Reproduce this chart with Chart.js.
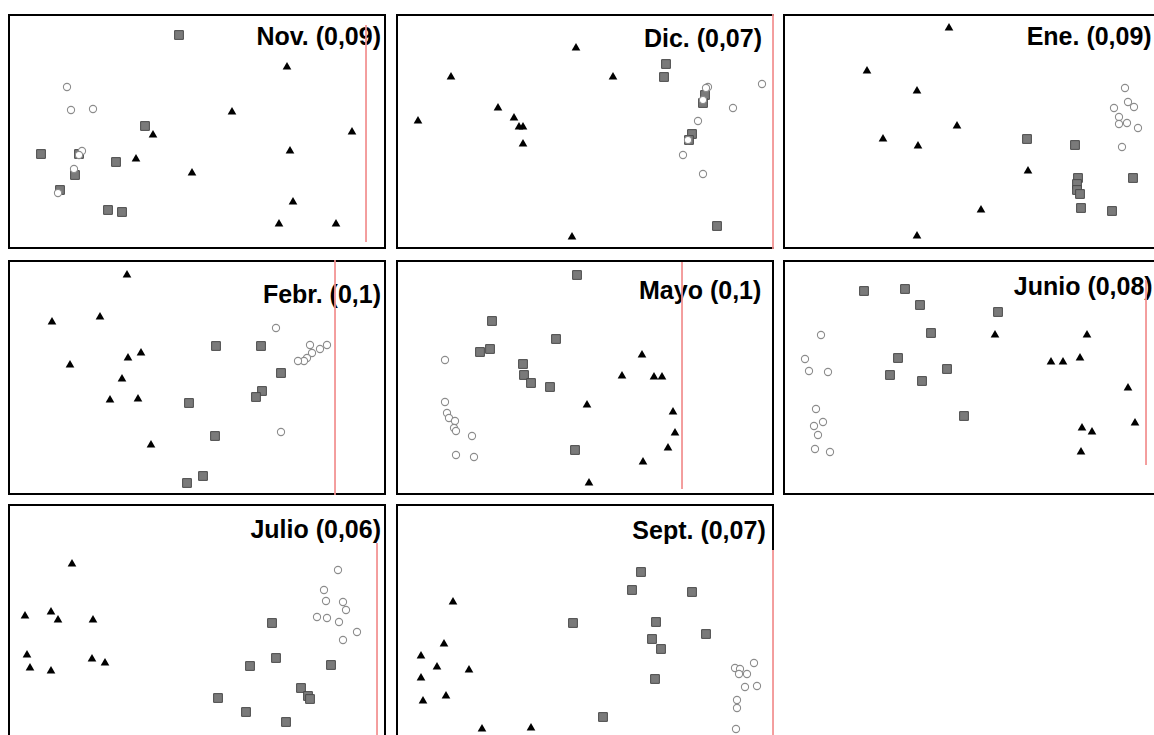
<!DOCTYPE html>
<html>
<head>
<meta charset="utf-8">
<script src="https://cdn.jsdelivr.net/npm/chart.js@4"></script>
<style>
  body { margin: 0; background: #fff; width: 1154px; height: 735px; overflow: hidden; position: relative; }
  .ttl { position: absolute; font: bold 25px "Liberation Sans", Arial, sans-serif; line-height: 25px; color: #000; white-space: nowrap; z-index: 1; }
  canvas { position: absolute; z-index: 2; }
</style>
</head>
<body>
<script>
// titles of the eight months
var titles = ['Nov. (0,09)', 'Dic. (0,07)', 'Ene. (0,09)', 'Febr. (0,1)', 'Mayo (0,1)', 'Junio (0,08)', 'Julio (0,06)', 'Sept. (0,07)'];

// points, [x, y] inside each panel (y down)
var novTri = [[279,53],[224,98],[344,118],[145,121],[282,137],[128,145],[184,159],[285,188],[271,210],[328,210]];
var novSq = [[171,21],[137,112],[33,140],[108,148],[71,140],[67,161],[52,176],[100,196],[114,198]];
var novCirc = [[59,73],[63,96],[85,95],[74,137],[71,141],[66,155],[50,179]];

var dicTri = [[180,34],[55,63],[217,63],[102,94],[22,107],[118,104],[123,113],[127,113],[127,130],[176,223]];
var dicSq = [[270,50],[268,63],[309,81],[307,89],[296,120],[293,126],[321,212]];
var dicCirc = [[366,70],[312,73],[310,74],[307,86],[337,94],[302,107],[292,126],[287,141],[307,160]];

var eneTri = [[166,14],[84,57],[134,77],[174,112],[100,125],[135,132],[245,157],[198,196],[134,222]];
var eneSq = [[244,125],[292,131],[350,164],[295,164],[294,170],[294,176],[297,180],[298,194],[329,197]];
var eneCirc = [[342,74],[331,94],[345,88],[351,93],[336,103],[336,110],[344,109],[355,114],[339,133]];

var febTri = [[119,15],[92,57],[44,62],[133,93],[120,98],[62,105],[114,119],[102,140],[130,139],[143,185]];
var febSq = [[208,86],[253,86],[273,113],[254,131],[248,137],[181,143],[207,176],[195,216],[179,223]];
var febCirc = [[268,68],[302,85],[319,85],[312,89],[304,93],[299,98],[296,101],[290,101],[273,172]];

var mayTri = [[246,95],[226,116],[258,117],[266,117],[191,145],[277,152],[279,173],[272,188],[247,202],[193,223]];
var maySq = [[181,15],[96,61],[160,79],[94,89],[84,92],[127,104],[128,115],[135,123],[154,127],[179,190]];
var mayCirc = [[49,100],[49,142],[51,153],[53,158],[59,161],[58,168],[60,171],[76,176],[60,195],[78,197]];

var junTri = [[212,75],[304,75],[268,102],[280,102],[297,98],[345,128],[352,163],[299,168],[309,172],[298,192]];
var junSq = [[81,31],[122,29],[137,45],[215,52],[148,73],[115,98],[164,109],[107,115],[139,121],[181,156]];
var junCirc = [[38,75],[22,99],[26,111],[45,112],[33,149],[40,162],[31,166],[35,175],[32,189],[47,192]];

var julTri = [[64,60],[17,112],[43,108],[50,116],[85,116],[19,151],[22,164],[43,167],[84,155],[97,159]];
var julSq = [[264,119],[268,154],[242,162],[323,161],[293,184],[300,192],[302,195],[210,194],[238,208],[278,218]];
var julCirc = [[330,66],[316,86],[318,97],[335,98],[338,106],[309,113],[319,114],[331,118],[349,128],[335,136]];

var sepTri = [[57,98],[48,140],[25,152],[41,163],[73,166],[25,174],[50,192],[27,197],[86,225],[135,224]];
var sepSq = [[245,68],[236,86],[296,88],[177,119],[260,118],[310,130],[256,135],[265,145],[259,175],[207,213]];
var sepCirc = [[358,159],[339,164],[344,165],[343,170],[351,170],[349,183],[361,182],[341,196],[341,204],[340,225]];

// red vertical line: x, top, bottom
var redLines = [[358,11,228],[377,0,235],null,[327,0,235],[286,2,229],[363,20,205],[369,39,240],[377,46,240]];

var tri = [novTri, dicTri, eneTri, febTri, mayTri, junTri, julTri, sepTri];
var sq = [novSq, dicSq, eneSq, febSq, maySq, junSq, julSq, sepSq];
var circ = [novCirc, dicCirc, eneCirc, febCirc, mayCirc, junCirc, julCirc, sepCirc];

// panel boxes and title placement
var panels = [
  {left: 8,   top: 14,  w: 378, h: 235, rightTo: 235, tRight: 381,    tTop: 24},
  {left: 396, top: 14,  w: 378, h: 235, rightTo: 0,   tRight: 762,    tTop: 25.6},
  {left: 783, top: 14,  w: 373, h: 235, rightTo: 235, tRight: 1151.7, tTop: 24},
  {left: 8,   top: 260, w: 378, h: 235, rightTo: 235, tRight: 381,    tTop: 282.3},
  {left: 396, top: 260, w: 378, h: 235, rightTo: 235, tRight: 761.3,  tTop: 277.6},
  {left: 783, top: 260, w: 373, h: 235, rightTo: 235, tRight: 1152.7, tTop: 274.3},
  {left: 8,   top: 504, w: 378, h: 240, rightTo: 240, tRight: 381,    tTop: 517.3},
  {left: 396, top: 504, w: 378, h: 240, rightTo: 46,  tRight: 765.7,  tTop: 518.3}
];

function pts(arr) {
  return arr.map(function(p) { return {x: p[0], y: p[1]}; });
}

var framePlugin = {
  id: 'frame',
  beforeDatasetsDraw: function(chart, args, opts) {
    var c = chart.ctx, w = chart.width, h = chart.height;
    c.save();
    c.strokeStyle = '#000';
    c.lineWidth = 2;
    c.beginPath();
    c.moveTo(1, h); c.lineTo(1, 1); c.lineTo(w, 1);
    c.moveTo(0, h - 1); c.lineTo(w, h - 1);
    if (opts.rightTo > 0) { c.moveTo(w - 1, 0); c.lineTo(w - 1, opts.rightTo); }
    c.stroke();
    c.restore();
  }
};

panels.forEach(function(p, i) {
  var t = document.createElement('div');
  t.className = 'ttl';
  t.textContent = titles[i];
  t.style.right = (1154 - p.tRight) + 'px';
  t.style.top = p.tTop + 'px';
  document.body.appendChild(t);

  var cv = document.createElement('canvas');
  cv.width = p.w; cv.height = p.h;
  cv.style.left = p.left + 'px'; cv.style.top = p.top + 'px';
  cv.style.width = p.w + 'px'; cv.style.height = p.h + 'px';
  document.body.appendChild(cv);

  var ds = [
    {type: 'scatter', data: pts(circ[i]), pointStyle: 'circle', pointRadius: 3.6, pointBorderWidth: 1.1,
     pointBackgroundColor: '#fff', pointBorderColor: '#8c8c8c', order: 1},
    {type: 'scatter', data: pts(sq[i]), pointStyle: 'rect', pointRadius: 6.2, pointBorderWidth: 1,
     pointBackgroundColor: '#7a7a7a', pointBorderColor: '#4a4a4a', order: 2},
    {type: 'scatter', data: pts(tri[i]), pointStyle: 'triangle', pointRadius: 5, pointBorderWidth: 0,
     pointBackgroundColor: '#000', pointBorderColor: '#000', order: 3}
  ];
  var r = redLines[i];
  if (r) {
    ds.push({type: 'line', data: [{x: r[0], y: r[1]}, {x: r[0], y: r[2]}], borderColor: '#f29090',
      borderWidth: 1, pointRadius: 0, fill: false, order: 0});
  }

  new Chart(cv.getContext('2d'), {
    type: 'scatter',
    data: {datasets: ds},
    options: {
      responsive: false,
      animation: false,
      devicePixelRatio: 1,
      layout: {padding: 0, autoPadding: false},
      clip: false,
      events: [],
      plugins: {legend: {display: false}, tooltip: {enabled: false}, frame: {rightTo: p.rightTo}},
      scales: {
        x: {type: 'linear', display: false, min: 0, max: p.w},
        y: {type: 'linear', display: false, min: 0, max: p.h, reverse: true}
      }
    },
    plugins: [framePlugin]
  });
});
</script>
</body>
</html>
